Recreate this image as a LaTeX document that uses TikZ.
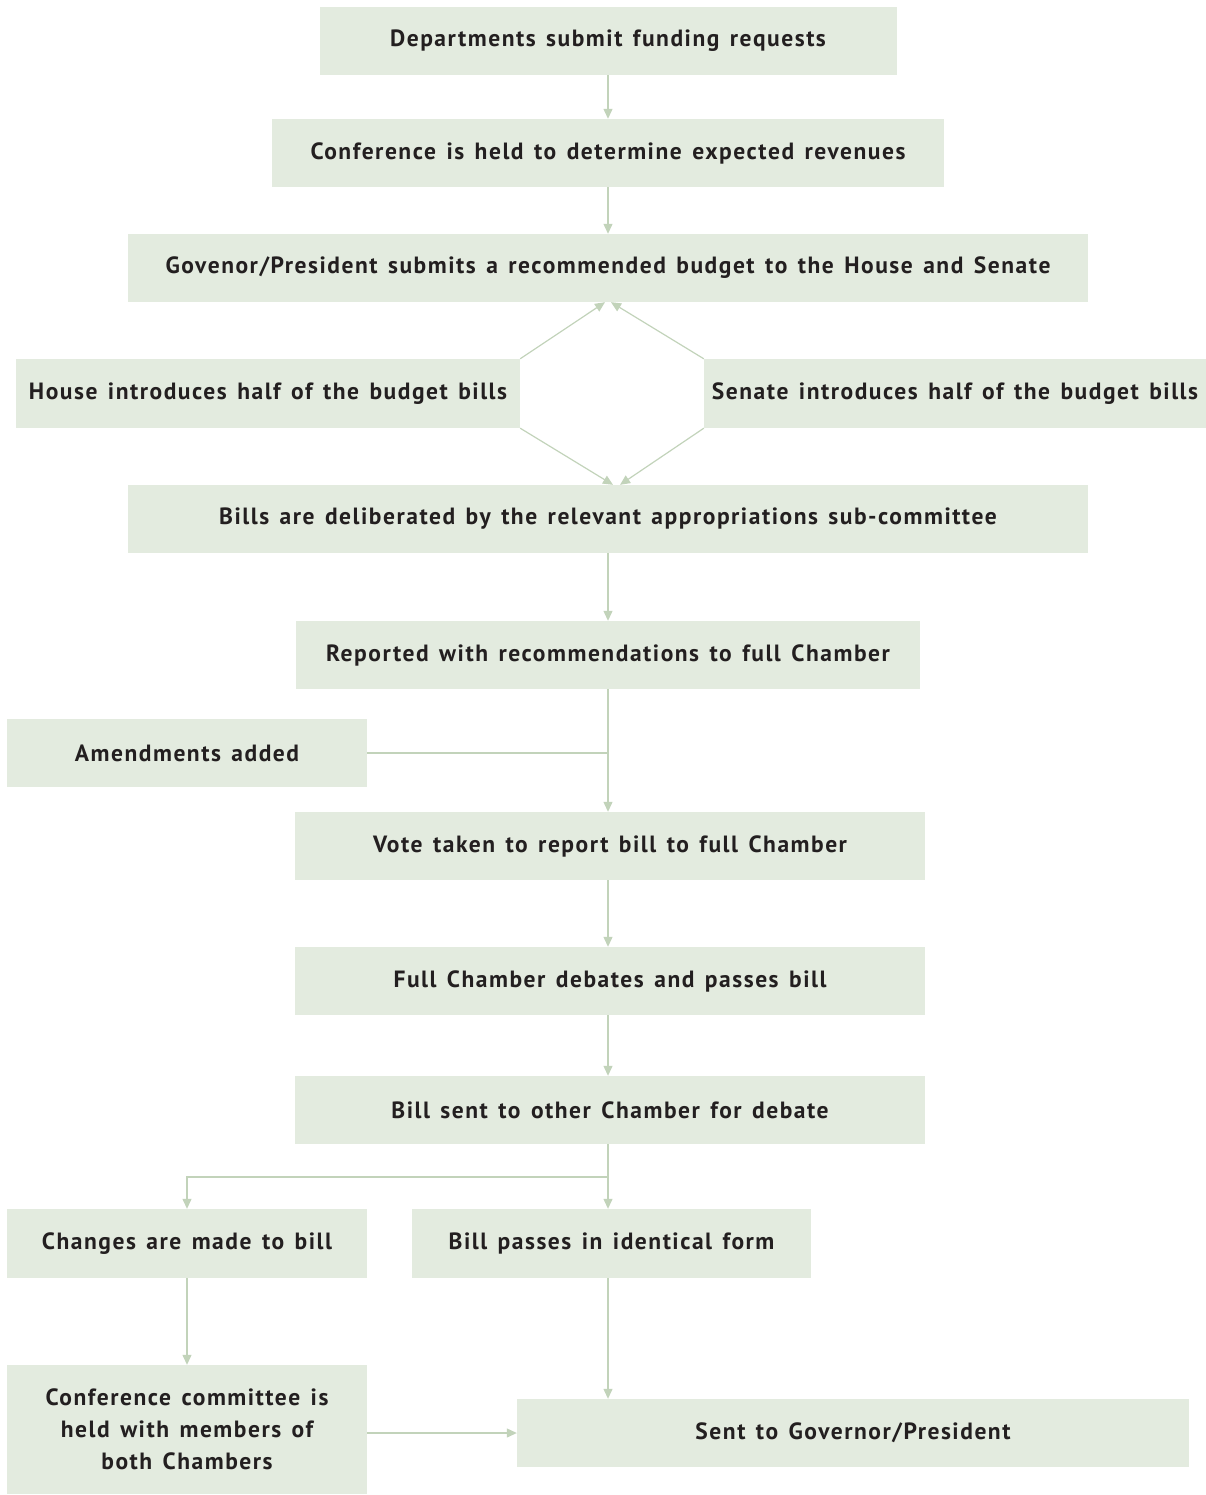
\documentclass[tikz,border=0pt]{standalone}
\usepackage{fontspec}
\setmainfont{PT Sans}[LetterSpace=6.5, WordSpace=1.4]
\usetikzlibrary{arrows.meta}
\definecolor{boxgreen}{HTML}{E3EBDF}
\definecolor{linegreen}{HTML}{C2D3BA}
\definecolor{inkdark}{HTML}{231F20}
\begin{document}
\begin{tikzpicture}[x=1pt,y=-1pt,
    box/.style={fill=boxgreen, minimum height=68pt, inner sep=0pt, align=center,
        text=inkdark, font=\fontsize{23.5}{32}\selectfont\bfseries},
    link/.style={draw=linegreen, line width=1.2pt},
    flow/.style={link, -{Triangle[length=10pt,width=9pt]}}]
    \useasboundingbox (0,0) rectangle (1206,1495);

    % Main column
    \node[box, minimum width=577pt] (dept) at (608,41) {Departments submit funding requests};
    \node[box, minimum width=672pt] (conf) at (608,153) {Conference is held to determine expected revenues};
    \node[box, minimum width=960pt] (budget) at (608,268) {Govenor/President submits a recommended budget to the House and Senate};

    % Both Chambers
    \node[box, minimum width=504pt, minimum height=69pt] (house) at (268,393.5) {House introduces half of the budget bills};
    \node[box, minimum width=502pt, minimum height=69pt] (senate) at (955,393.5) {Senate introduces half of the budget bills};

    \node[box, minimum width=960pt] (delib) at (608,519) {Bills are deliberated by the relevant appropriations sub-committee};
    \node[box, minimum width=624pt] (report) at (608,655) {Reported with recommendations to full Chamber};
    \node[box, minimum width=360pt] (amend) at (187,753) {Amendments added};
    \node[box, minimum width=630pt] (vote) at (610,846) {Vote taken to report bill to full Chamber};
    \node[box, minimum width=630pt] (debate) at (610,981) {Full Chamber debates and passes bill};
    \node[box, minimum width=630pt] (other) at (610,1110) {Bill sent to other Chamber for debate};

    % Outcomes
    \node[box, minimum width=360pt, minimum height=69pt] (changes) at (187,1243.5) {Changes are made to bill};
    \node[box, minimum width=399pt, minimum height=69pt] (identical) at (611.5,1243.5) {Bill passes in identical form};
    \node[box, minimum width=360pt, minimum height=129pt] (confcom) at (187,1429.5)
        {Conference committee is\\held with members of\\both Chambers};
    \node[box, minimum width=672pt] (governor) at (853,1433) {Sent to Governor/President};

    % Connectors
    \draw[flow] (dept) -- (conf);
    \draw[flow] (conf) -- (budget);
    \draw[flow] (house.north east) -- ([xshift=-3pt]budget.south);
    \draw[flow] (senate.north west) -- ([xshift=3pt]budget.south);
    \draw[flow] (house.south east) -- ([xshift=5pt]delib.north);
    \draw[flow] (senate.south west) -- ([xshift=12pt]delib.north);
    \draw[flow] (delib) -- (delib.south |- report.north);
    \draw[flow] (report.south) -- (report.south |- vote.north);
    \draw[link] (amend.east) -- (amend.east -| report.south);
    \draw[flow] (report.south |- vote.south) -- (report.south |- debate.north);
    \draw[flow] (report.south |- debate.south) -- (report.south |- other.north);
    \coordinate (split) at (608,1177);
    \draw[link] (report.south |- other.south) -- (split);
    \draw[flow] (split) -| (changes.north);
    \draw[flow] (split) -- (split |- identical.north);
    \draw[flow] (changes) -- (confcom);
    \draw[flow] (split |- identical.south) -- (split |- governor.north);
    \draw[flow] (confcom.east |- governor.west) -- (governor.west);
\end{tikzpicture}
\end{document}
